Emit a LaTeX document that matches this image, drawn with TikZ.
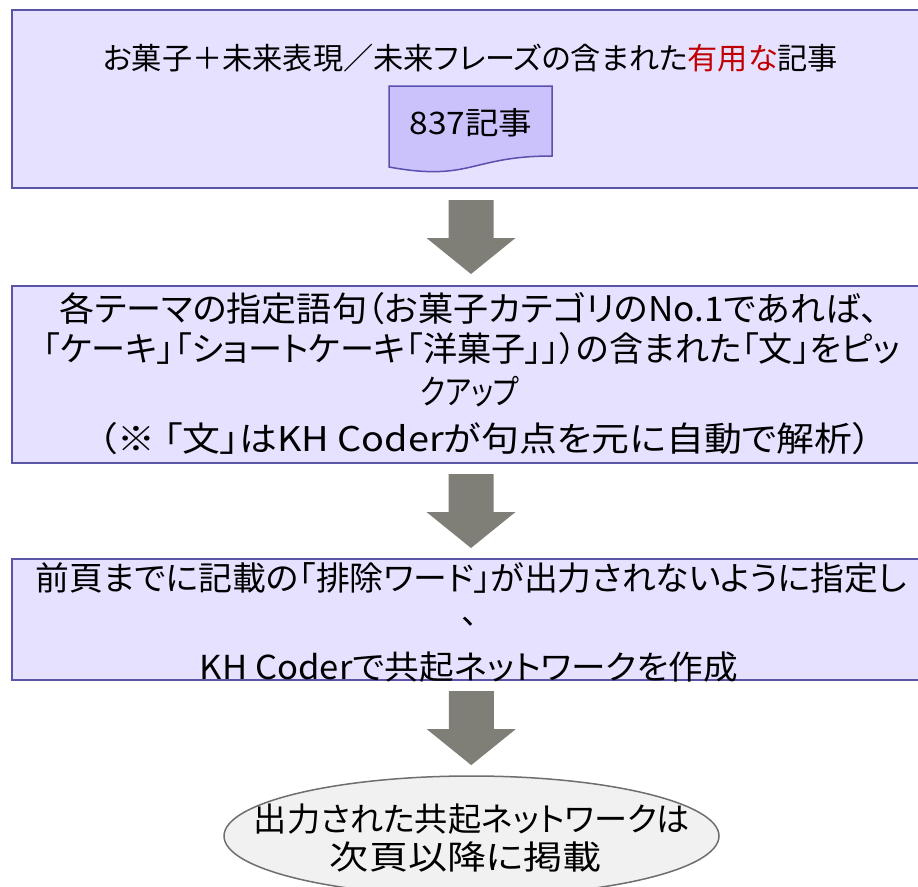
\documentclass[tikz,border=0pt]{standalone}
\usepackage{fontspec}
\setmainfont{Noto Sans CJK JP}[RawFeature={+palt}]
\usepackage{graphicx}
\usetikzlibrary{shapes.geometric,calc}
\definecolor{boxfill}{HTML}{E6E1FF}
\definecolor{boxline}{HTML}{5A55A6}
\definecolor{docfill}{HTML}{CBC1FB}
\definecolor{docline}{HTML}{5A50AE}
\definecolor{arrowfill}{HTML}{7F7F77}
\definecolor{ellfill}{HTML}{F1F1F1}
\definecolor{ellline}{HTML}{6E6E6E}
\definecolor{myred}{HTML}{C00000}
\newcommand{\fitw}[2]{\resizebox{#1pt}{\height}{#2}}
\newcommand{\blockarrowat}[1]{%
  \fill[arrowfill] ($(#1)+(-22.5,-37)$) -- ++(45,0) -- ++(0,38) -- ++(22,0)
    -- ++(-44.5,36) -- ++(-44.5,-36) -- ++(22,0) -- cycle;}
\begin{document}
\begin{tikzpicture}[x=1pt,y=-1pt,
  panel/.style={draw=boxline, fill=boxfill, line width=2pt, inner sep=0pt, minimum width=918pt},
  txt/.style={inner sep=0pt, font=\fontsize{#1}{#1}\selectfont},
  endoval/.style={ellipse, draw=ellline, fill=ellfill, line width=1.5pt, inner sep=0pt,
    minimum width=495pt, minimum height=120pt}]
\useasboundingbox (0,0) rectangle (918,886);

% panels
\node[panel, minimum height=178pt] (b1) at (471,99) {};
\node[panel, minimum height=177pt] (b2) at (471,374.5) {};
\node[panel, minimum height=121pt] (b3) at (471,619.5) {};
\node[endoval] (ell) at (471.5,836) {};

% document shape
\filldraw[fill=docfill, draw=docline, line width=1.5pt]
  (389,86) -- (552,86) -- (552,156) .. controls (470.5,156) and (470.5,182) .. (389,167) -- cycle;

% texts
\node[txt=30pt] (t1) at (470.5,58) {\fitw{735}{お菓子＋未来表現／未来フレーズの含まれた\textcolor{myred}{有用な}記事}};
\node[txt=31pt] (t2) at (471,123) {\fitw{123}{837記事}};

\node[txt=34pt] (l1) at (469,309) {\fitw{818}{各テーマの指定語句（お菓子カテゴリのNo.1であれば、}};
\node[txt=34pt] (l2) at (471.5,349) {\fitw{857}{「ケーキ」「ショートケーキ「洋菓子」」）の含まれた「文」をピッ}};
\node[txt=34pt] (l3) at (469.5,392) {\fitw{99}{クアップ}};
\node[txt=34pt] (l4) at (485,439) {\fitw{773}{（※ 「文」はKH Coderが句点を元に自動で解析）}};

\node[txt=33pt] (m1) at (471.5,578) {\fitw{871}{前頁までに記載の「排除ワード」が出力されないように指定し}};
\node[txt=33pt] (m2) at (470,622) {、};
\node[txt=33pt] (m3) at (469,667) {\fitw{538}{KH Coderで共起ネットワークを作成}};

\node[txt=33pt] (e1) at (472,819) {\fitw{436}{出力された共起ネットワークは}};
\node[txt=33pt] (e2) at (466,857) {\fitw{272}{次頁以降に掲載}};

% block arrows between panels
\coordinate (c1) at ($(b1.south)!.5!(b2.north)$);
\coordinate (c2) at ($(b2.south)!.5!(b3.north)$);
\coordinate (c3) at ($(b3.south)!.5!(ell.north)$);
\blockarrowat{c1}
\blockarrowat{c2}
\blockarrowat{c3}
\end{tikzpicture}
\end{document}
